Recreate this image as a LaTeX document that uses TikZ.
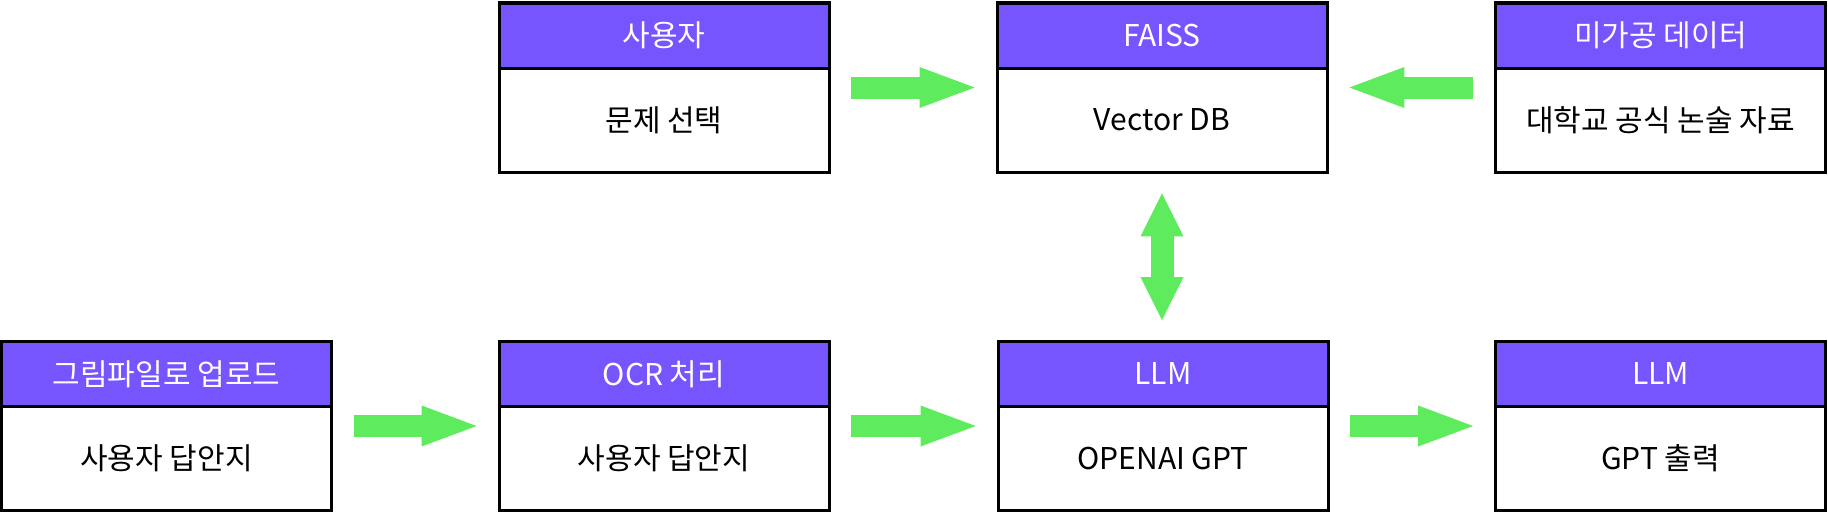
\documentclass[tikz,border=0pt]{standalone}
\usepackage{fontspec}
\setmainfont{Noto Sans CJK KR}
\usetikzlibrary{positioning,fit,arrows.meta}
\definecolor{headpurple}{RGB}{118,85,255}
\definecolor{arrowgreen}{RGB}{94,235,94}
\tikzset{
	boxhead/.style={draw, line width=1.5pt, fill=headpurple, text=white, anchor=north west, outer sep=0pt,
		minimum width=165pt, minimum height=32.5pt, inner sep=0pt, font=\fontsize{15}{18}\selectfont},
	boxbody/.style={draw, line width=1.5pt, fill=white, below=0pt of #1, outer sep=0pt,
		minimum width=165pt, minimum height=52pt, inner sep=0pt, font=\fontsize{15}{18}\selectfont},
	boxfit/.style={inner sep=0pt},
	flow/.style={draw=arrowgreen, line width=11pt,
		-{Triangle[length=27.5pt,width=20.5pt,line width=0pt]}, shorten <=11pt, shorten >=11pt},
	flowboth/.style={draw=arrowgreen, line width=11.5pt,
		{Triangle[length=21.5pt,width=21.5pt,line width=0pt]}-{Triangle[length=21.5pt,width=21.5pt,line width=0pt]},
		shorten <=10.5pt, shorten >=10.5pt}
}
\begin{document}
\begin{tikzpicture}[x=0.5pt, y=-0.5pt]
	\useasboundingbox (0,0) rectangle (1828,514);
	
	% ==================== 윗줄 ====================
	\begin{scope}[yshift=0cm]
		% --- 사용자 ---
		\node[boxhead] (userH) at (499,3) {사용자};
		\node[boxbody=userH] (user) {문제 선택};
		\node[boxfit, fit=(userH)(user)] (userBox) {};
		
		% --- FAISS ---
		\node[boxhead] (faissH) at (997,3) {FAISS};
		\node[boxbody=faissH] (faiss) {Vector DB};
		\node[boxfit, fit=(faissH)(faiss)] (faissBox) {};
		
		% --- 미가공 데이터 ---
		\node[boxhead] (rawH) at (1495.5,3) {미가공 데이터};
		\node[boxbody=rawH] (raw) {대학교 공식 논술 자료};
		\node[boxfit, fit=(rawH)(raw)] (rawBox) {};
	\end{scope}
	
	% ==================== 아랫줄 ====================
	\begin{scope}[yshift=0cm]
		% --- 그림파일로 업로드 ---
		\node[boxhead] (uploadH) at (1.5,341.5) {그림파일로 업로드};
		\node[boxbody=uploadH] (upload) {사용자 답안지};
		\node[boxfit, fit=(uploadH)(upload)] (uploadBox) {};
		
		% --- OCR 처리 ---
		\node[boxhead] (ocrH) at (499,341.5) {OCR 처리};
		\node[boxbody=ocrH] (ocr) {사용자 답안지};
		\node[boxfit, fit=(ocrH)(ocr)] (ocrBox) {};
		
		% --- LLM ---
		\node[boxhead] (llmH) at (998,341.5) {LLM};
		\node[boxbody=llmH] (llm) {OPENAI GPT};
		\node[boxfit, fit=(llmH)(llm)] (llmBox) {};
		
		% --- 출력 ---
		\node[boxhead] (outH) at (1495.5,341.5) {LLM};
		\node[boxbody=outH] (out) {GPT 출력};
		\node[boxfit, fit=(outH)(out)] (outBox) {};
	\end{scope}
	
	% 화살표
	\draw[flow] (userBox) -- (faissBox);
	\draw[flow] (rawBox) -- (faissBox);
	\draw[flowboth] (faissBox.south) -- (faissBox.south |- llmBox.north);
	\draw[flow] (uploadBox) -- (ocrBox);
	\draw[flow] (ocrBox) -- (llmBox);
	\draw[flow] (llmBox) -- (outBox);
\end{tikzpicture}
\end{document}
